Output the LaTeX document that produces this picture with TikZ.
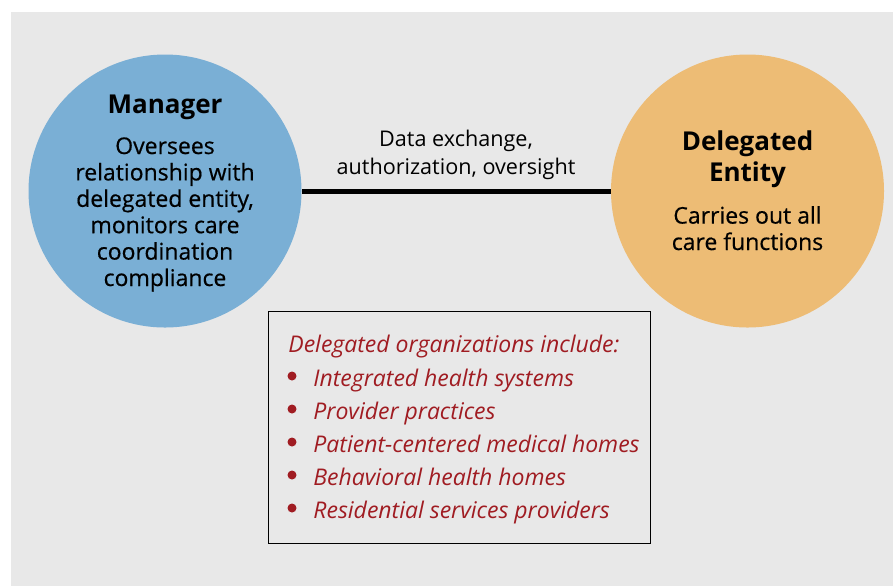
\documentclass[tikz,border=0pt]{standalone}
\usepackage{fontspec}
\setmainfont{Open Sans}
\usetikzlibrary{positioning}

\definecolor{bggray}{RGB}{232,232,232}
\definecolor{mgrblue}{RGB}{122,175,213}
\definecolor{delorange}{RGB}{237,188,117}
\definecolor{listred}{RGB}{160,28,34}

\tikzset{
  bubble/.style={circle, minimum size=136.5pt, inner sep=0pt},
  headtext/.style={font=\fontsize{13}{15.5}\selectfont\bfseries, align=center, inner sep=0pt},
  bodytext/.style={font=\fontsize{11.5}{13.2}\selectfont\addfontfeatures{FakeBold=0.5}, align=center, inner sep=0pt},
  linktext/.style={font=\fontsize{10.8}{14}\selectfont, align=center, inner sep=0pt},
  link/.style={line width=2.5pt},
  listbox/.style={draw=black, line width=0.5pt, fill=bggray, minimum width=191pt, minimum height=116pt, inner sep=0pt},
  listtext/.style={font=\fontsize{11.5}{16.5}\selectfont\itshape, text=listred, inner sep=0pt}
}

\begin{document}
\begin{tikzpicture}[x=0.5pt,y=-0.5pt]
\useasboundingbox (0,0) rectangle (893,586);
\fill[bggray] (11,12) rectangle (893,586);

% the two parties
\node[bubble, fill=mgrblue] (mgr) at (165,191) {};
\node[bubble, fill=delorange] (deleg) at (747.5,191) {};

% multi-line nodes sit on the baseline of their last line
\node[headtext, anchor=base] (mgrhead) at (165,113) {Manager};
\node[bodytext, anchor=base] (mgrbody) at (165,286) {Oversees\\relationship with\\delegated entity,\\monitors care\\coordination\\compliance};

\node[headtext, anchor=base] (delhead) at (747.5,181.5) {Delegated\\Entity};
\node[bodytext, anchor=base] (delbody) at (747.5,250) {Carries out all\\care functions};

% connection
\draw[link] (mgr) -- (deleg);
\node[linktext, anchor=base] (linklabel) at (456,174) {Data exchange,\\authorization, oversight};

% list of organizations
\node[listbox] (orgs) at (459,427) {};
\node[listtext, anchor=base west] (orghead) at (288,352) {Delegated organizations include:};
\foreach \org [count=\i] in {Integrated health systems, Provider practices, Patient-centered medical homes, Behavioral health homes, Residential services providers} {
  \node[listtext, anchor=base west] (org\i) at (313,{353+33*\i}) {\org};
  \fill[listred] (292,{343+33*\i}) circle (2.25pt);
}

\end{tikzpicture}
\end{document}
